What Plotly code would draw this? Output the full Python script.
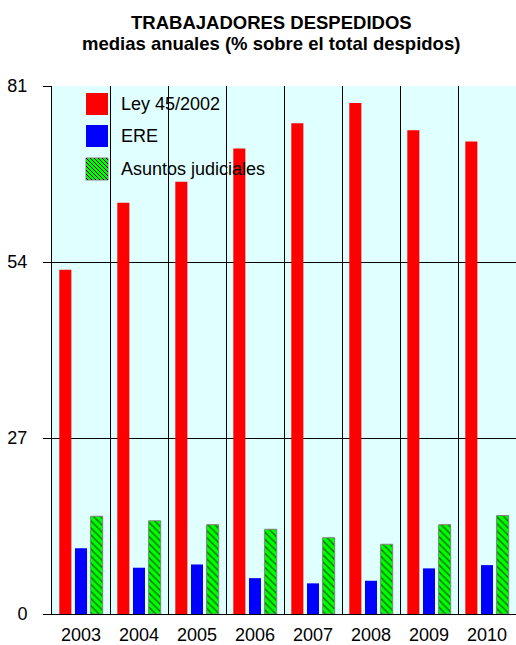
import plotly.graph_objects as go

# Data: yearly averages, % of total dismissed workers
years = ["2003", "2004", "2005", "2006", "2007", "2008", "2009", "2010"]
ley_45_2002 = [52.8, 63.1, 66.3, 71.4, 75.3, 78.4, 74.2, 72.5]
ere = [10.1, 7.1, 7.6, 5.5, 4.7, 5.1, 7.0, 7.5]
asuntos_judiciales = [15.0, 14.3, 13.7, 13.0, 11.7, 10.7, 13.7, 15.1]

series_names = ["Ley 45/2002", "ERE", "Asuntos judiciales"]
series_colors = ["#FF0000", "#0000FF", "#00FF00"]
y_ticks = [0, 27, 54, 81]

FONT = "Liberation Sans, Arial, sans-serif"
W, H = 516, 645
ML, MR, MT, MB = 52, 0, 86, 31
PW, PH = W - ML - MR, H - MT - MB


def px(x):
    """pixel x -> paper x"""
    return (x - ML) / PW


def py(y):
    """pixel y -> paper y"""
    return (H - MB - y) / PH


fig = go.Figure()
fig.add_trace(go.Bar(x=years, y=ley_45_2002, name=series_names[0],
                     marker=dict(color=series_colors[0], line=dict(width=0))))
fig.add_trace(go.Bar(x=years, y=ere, name=series_names[1],
                     marker=dict(color=series_colors[1], line=dict(width=0))))
fig.add_trace(go.Bar(x=years, y=asuntos_judiciales, name=series_names[2],
                     marker=dict(color=series_colors[2],
                                 line=dict(color="#808080", width=1),
                                 pattern=dict(shape="\\", fgcolor="black",
                                              bgcolor=series_colors[2],
                                              size=5, solidity=0.3))))

shapes = []
annotations = []

# Hand-drawn legend with large swatches
sw = 22
rows_y = [104, 136, 169]
sx0 = 86
for i, (name, col) in enumerate(zip(series_names, series_colors)):
    cy = rows_y[i]
    y0, y1 = cy - sw / 2, cy + sw / 2
    line = dict(width=0) if i < 2 else dict(color="#808080", width=1)
    shapes.append(dict(type="rect", xref="paper", yref="paper",
                       x0=px(sx0), x1=px(sx0 + sw), y0=py(y1), y1=py(y0),
                       fillcolor=col, line=line, layer="above"))
    if i == 2:
        segs = []
        for c in range(-sw + 2, sw, 4):
            if c >= 0:
                a = (sx0 + c, y0)
                b = (sx0 + sw, y0 + sw - c)
            else:
                a = (sx0, y0 - c)
                b = (sx0 + sw + c, y0 + sw)
            segs.append(f"M{px(a[0])},{py(a[1])} L{px(b[0])},{py(b[1])}")
        shapes.append(dict(type="path", xref="paper", yref="paper",
                           path=" ".join(segs),
                           line=dict(color="black", width=1), layer="above"))
    annotations.append(dict(text=name, xref="paper", yref="paper",
                            x=px(119), y=py(cy), xanchor="left", yanchor="middle",
                            showarrow=False,
                            font=dict(family=FONT, size=18, color="black")))

# Two-line bold title
for txt, cy in [("TRABAJADORES DESPEDIDOS", 23),
                ("medias anuales (% sobre el total despidos)", 44)]:
    annotations.append(dict(text=f"<b>{txt}</b>", xref="paper", yref="paper",
                            x=px(271), y=py(cy), xanchor="center", yanchor="middle",
                            showarrow=False,
                            font=dict(family=FONT, size=18.5, color="black")))

fig.update_layout(
    width=W, height=H,
    margin=dict(l=ML, r=MR, t=MT, b=MB, autoexpand=False),
    paper_bgcolor="white",
    plot_bgcolor="#E0FFFF",
    barmode="group",
    bargap=0.19,
    bargroupgap=0.23,
    showlegend=False,
    shapes=shapes,
    annotations=annotations,
    font=dict(family=FONT, size=18, color="black"),
)
fig.update_xaxes(type="category", tickson="boundaries", showgrid=True,
                 gridcolor="black", gridwidth=1, ticks="", showline=True,
                 linecolor="black", linewidth=1, ticklabelstandoff=4,
                 tickfont=dict(family=FONT, size=18, color="black"))
fig.update_yaxes(range=[0, 81], tickvals=y_ticks, showgrid=True,
                 gridcolor="black", gridwidth=1, zeroline=False,
                 showline=True, linecolor="black", linewidth=1,
                 ticks="outside", ticklen=8, tickcolor="black",
                 ticklabelstandoff=12,
                 tickfont=dict(family=FONT, size=18, color="black"))

fig.write_html("out.html")
